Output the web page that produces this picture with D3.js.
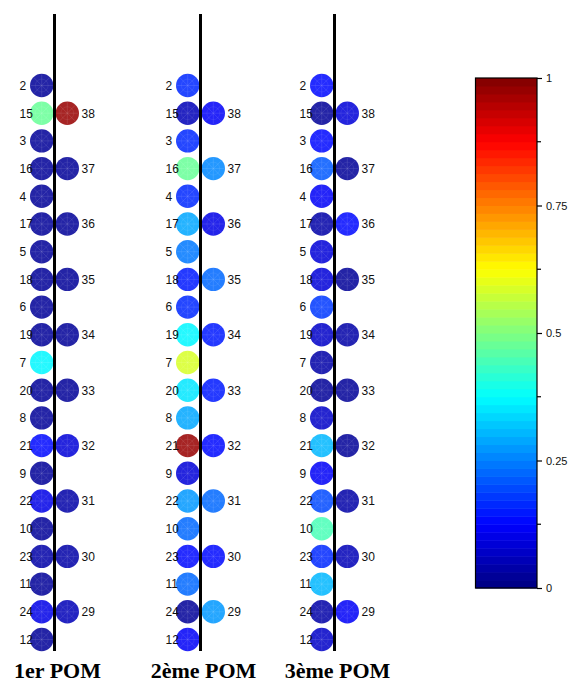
<!DOCTYPE html>
<html><head><meta charset="utf-8">
<script src="https://cdn.jsdelivr.net/npm/d3@7"></script>
<style>body{margin:0;background:#fff}svg{display:block}</style>
</head><body>
<svg id="chart" width="573" height="682"></svg>
<script>
// Row labels (left side, top to bottom) and right-side labels (rows 15..24)
const leftLabels = [2,15,3,16,4,17,5,18,6,19,7,20,8,21,9,22,10,23,11,24,12];
const rightLabels = [38,37,36,35,34,33,32,31,30,29];
const panelTitles = ["1er POM", "2ème POM", "3ème POM"];

// values 0..1 for left circles (same order as leftLabels)
const pom1Left  = [0.02,0.47,0.02,0.03,0.02,0.03,0.03,0.03,0.02,0.03,0.36,0.03,0.03,0.13,0.03,0.10,0.03,0.04,0.03,0.10,0.03];
const pom1Right = [0.97,0.03,0.03,0.03,0.03,0.03,0.09,0.04,0.04,0.05];
const pom2Left  = [0.17,0.06,0.16,0.47,0.17,0.29,0.24,0.15,0.17,0.37,0.58,0.35,0.29,0.98,0.08,0.28,0.23,0.14,0.22,0.03,0.11];
const pom2Right = [0.12,0.26,0.10,0.23,0.15,0.15,0.13,0.22,0.13,0.28];
const pom3Left  = [0.13,0.02,0.14,0.21,0.11,0.04,0.08,0.08,0.18,0.07,0.04,0.03,0.07,0.31,0.11,0.20,0.44,0.17,0.30,0.04,0.07];
const pom3Right = [0.08,0.03,0.13,0.03,0.04,0.03,0.03,0.04,0.05,0.12];

const colorbarTicks = [0,0.25,0.5,0.75,1];
const colorbarMinor = [0.125,0.375,0.625,0.875];

const panels = [
  {title: panelTitles[0], left: pom1Left, right: pom1Right},
  {title: panelTitles[1], left: pom2Left, right: pom2Right},
  {title: panelTitles[2], left: pom3Left, right: pom3Right}
];

// jet colormap, 64 levels
function jet(v){
  v = Math.max(0, Math.min(1, v));
  const lv = Math.min(63, Math.floor(v*64));
  const t = (lv + 0.5)/64;
  const c = x => Math.round(255*Math.max(0, Math.min(1, x)));
  return d3.rgb(c(1.5-Math.abs(4*t-3)), c(1.5-Math.abs(4*t-2)), c(1.5-Math.abs(4*t-1)));
}

const svg = d3.select("#chart");

const panelX = d3.scaleOrdinal().domain(panelTitles).range([54.5, 200.5, 334.5]);
const yRow = d3.scalePoint().domain(d3.range(leftLabels.length)).range([85.5, 639.5]);

const r = 11.7, off = 12.8;

panels.forEach(p => {
  const cx = panelX(p.title);
  const g = svg.append("g");
  const drawCircle = (x, y, v) => {
    const col = jet(v);
    const cg = g.append("g").attr("transform", `translate(${x},${y})`);
    cg.append("circle").attr("r", r).attr("fill", col).attr("fill-opacity", 0.86);
    // faint texture
    for (let k = 0; k < 8; k++) {
      const a = k*Math.PI/4;
      cg.append("line").attr("x1",0).attr("y1",0)
        .attr("x2", Math.cos(a)*r*0.95).attr("y2", Math.sin(a)*r*0.95)
        .attr("stroke","#fff").attr("stroke-opacity",0.18).attr("stroke-width",0.6);
    }
    cg.append("circle").attr("r", r*0.55).attr("fill","none")
      .attr("stroke","#fff").attr("stroke-opacity",0.12).attr("stroke-width",0.6);
  };
  p.left.forEach((v,i) => drawCircle(cx - off, yRow(i), v));
  p.right.forEach((v,j) => drawCircle(cx + off, yRow(1 + 2*j), v));
  g.append("line").attr("x1", cx).attr("x2", cx).attr("y1", 14).attr("y2", 651)
    .attr("stroke", "#000").attr("stroke-width", 3);
  leftLabels.forEach((lab,i) => {
    g.append("text").attr("x", cx - 35).attr("y", yRow(i)).attr("dy","0.36em")
      .attr("font-family","Liberation Sans, Arial, sans-serif").attr("font-size",12)
      .attr("fill","#111").text(lab);
  });
  rightLabels.forEach((lab,j) => {
    g.append("text").attr("x", cx + 27).attr("y", yRow(1+2*j)).attr("dy","0.36em")
      .attr("font-family","Liberation Sans, Arial, sans-serif").attr("font-size",12)
      .attr("fill","#111").text(lab);
  });
  g.append("text").attr("x", cx + 3).attr("y", 678).attr("text-anchor","middle")
    .attr("font-family","Liberation Serif, Times New Roman, serif").attr("font-weight","bold")
    .attr("font-size",22).attr("fill","#000").text(p.title);
});

// colorbar
const cbX0 = 475.5, cbX1 = 537, cbTop = 78, cbBot = 588;
const yc = d3.scaleLinear().domain([0,1]).range([cbBot, cbTop]);
const cb = svg.append("g");
d3.range(64).forEach(k => {
  cb.append("rect").attr("x", cbX0).attr("width", cbX1 - cbX0)
    .attr("y", yc((k+1)/64)).attr("height", yc(k/64) - yc((k+1)/64) + 0.5)
    .attr("fill", jet((k+0.5)/64));
});
cb.append("rect").attr("x", cbX0).attr("y", cbTop).attr("width", cbX1-cbX0).attr("height", cbBot-cbTop)
  .attr("fill","none").attr("stroke","#000").attr("stroke-width",1.2);
const axis = d3.axisRight(yc).tickValues(colorbarTicks).tickSize(5).tickPadding(4)
  .tickFormat(d => d3.format("")(d));
const ag = cb.append("g").attr("transform", `translate(${cbX1},0)`).call(axis);
ag.select(".domain").remove();
ag.selectAll("text").attr("font-family","Liberation Sans, Arial, sans-serif").attr("font-size",11).attr("fill","#111");
ag.selectAll("line").attr("stroke","#000").attr("stroke-width",1.2);
colorbarMinor.forEach(v => {
  cb.append("line").attr("x1", cbX1).attr("x2", cbX1+4).attr("y1", yc(v)).attr("y2", yc(v))
    .attr("stroke","#000").attr("stroke-width",1.2);
});
</script>
</body></html>
